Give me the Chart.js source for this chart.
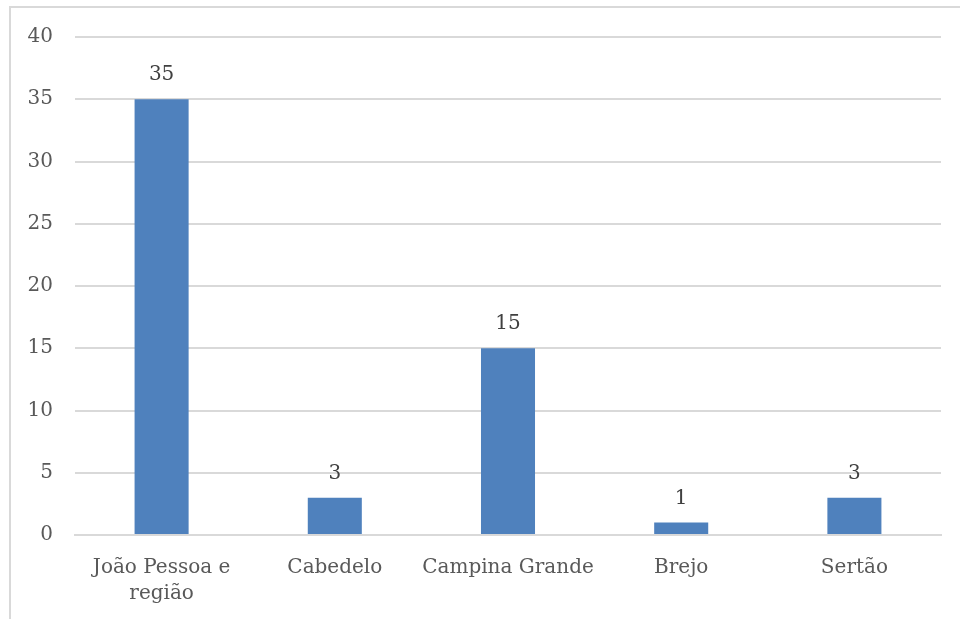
<!DOCTYPE html>
<html>
  <head>
    <meta charset="utf-8">
    <title>Chart</title>
    <script src="https://cdn.jsdelivr.net/npm/chart.js"></script>
    <style>
      html, body { margin: 0; padding: 0; background: #fff; overflow: hidden; }
      #frame {
        position: absolute; left: 9px; top: 6px; width: 1000px; height: 700px;
        border: 2px solid #d9d9d9; box-sizing: border-box;
      }
      #wrap { position: absolute; left: 0; top: 0; width: 960px; height: 619px; }
    </style>
  </head>
  <body>
    <div id="frame"></div>
    <div id="wrap"><canvas id="chart"></canvas></div>
    <script>
const regions = [['João Pessoa e', 'região'], 'Cabedelo', 'Campina Grande', 'Brejo', 'Sertão'];
const counts = [35, 3, 15, 1, 3];
const yTicks = [0, 5, 10, 15, 20, 25, 30, 35, 40];

const fontFamily = "'DejaVu Serif', serif";
const fontSize = 20;

// value labels above each bar
const barValues = {
  id: 'barValues',
  afterDatasetsDraw(chart) {
    const ctx = chart.ctx;
    const meta = chart.getDatasetMeta(0);
    ctx.save();
    ctx.font = fontSize + 'px ' + fontFamily;
    ctx.fillStyle = '#404040';
    ctx.textAlign = 'center';
    ctx.textBaseline = 'middle';
    meta.data.forEach((bar, i) => {
      ctx.fillText(String(counts[i]), bar.x, bar.y - 24);
    });
    ctx.restore();
  }
};

new Chart(document.getElementById('chart'), {
  type: 'bar',
  data: {
    labels: regions,
    datasets: [{
      data: counts,
      backgroundColor: '#4f81bd',
      categoryPercentage: 1,
      barPercentage: 0.312
    }]
  },
  options: {
    responsive: true,
    maintainAspectRatio: false,
    animation: false,
    layout: { padding: { left: 0, right: 19, top: 37, bottom: 0 } },
    plugins: { legend: { display: false }, tooltip: { enabled: false } },
    scales: {
      x: {
        grid: { display: false, drawTicks: false },
        border: { color: '#d9d9d9', width: 2 },
        ticks: {
          color: '#595959',
          font: { family: fontFamily, size: fontSize, lineHeight: 1.3 },
          padding: 20,
          autoSkip: false,
          maxRotation: 0
        },
        afterFit(scale) { scale.height = 84; }
      },
      y: {
        min: 0,
        max: 40,
        afterBuildTicks(scale) { scale.ticks = yTicks.map(v => ({ value: v })); },
        grid: { color: '#d9d9d9', lineWidth: 2, drawTicks: false },
        border: { display: false },
        ticks: { color: '#595959', font: { family: fontFamily, size: fontSize }, padding: 22 },
        afterFit(scale) { scale.width = 75; }
      }
    }
  },
  plugins: [barValues]
});
    </script>
  </body>
</html>
